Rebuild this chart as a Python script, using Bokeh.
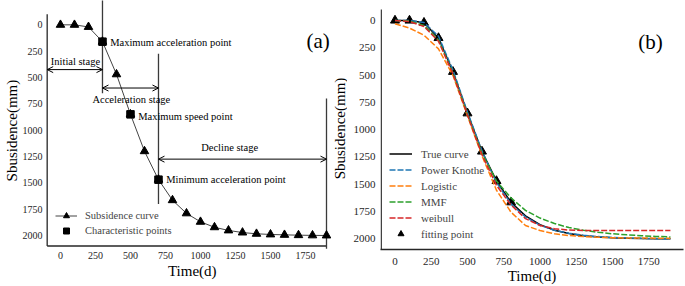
import math
from bokeh.plotting import figure
from bokeh.models import (Range1d, FixedTicker, Legend, LegendItem,
                          Arrow, OpenHead)
from bokeh.layouts import row
from bokeh.core.properties import value
from bokeh.embed import file_html
from bokeh.resources import INLINE

# ---------------- data ----------------
time_d = [0, 100, 200, 300, 400, 500, 600, 700, 800, 900, 1000, 1100, 1200,
          1300, 1400, 1500, 1600, 1700, 1800, 1900]
true_curve = [0, 0, 20, 160, 470, 850, 1200, 1470, 1665, 1790, 1870, 1922,
              1952, 1972, 1984, 1990, 1994, 1997, 1999, 2000]
char_t = [300, 500, 700]
char_s = [160, 850, 1470]
char_labels = ["Maximum acceleration point", "Maximum speed point",
               "Minimum acceleration point"]
stage_labels = ["Initial stage", "Acceleration stage", "Decline stage"]

power_knothe = [0, 0, 18, 145, 455, 840, 1195, 1485, 1680, 1800, 1876, 1922,
                1950, 1968, 1980, 1988, 1993, 1996, 1998, 2000]
logistic = [30, 70, 135, 260, 505, 875, 1240, 1555, 1756, 1878, 1924, 1954,
            1970, 1980, 1986, 1990, 1992, 1993, 1994, 1994]
mmf = [0, 5, 45, 180, 480, 860, 1215, 1470, 1625, 1740, 1810, 1860, 1897,
       1922, 1940, 1954, 1964, 1972, 1978, 1983]
weibull = [0, 10, 55, 190, 490, 865, 1230, 1510, 1690, 1815, 1878, 1908,
           1920, 1924, 1925, 1925, 1925, 1925, 1925, 1925]
fit_t = time_d[:9]
fit_s = true_curve[:9]

x_ticks = [0, 250, 500, 750, 1000, 1250, 1500, 1750]
y_ticks = [0, 250, 500, 750, 1000, 1250, 1500, 1750, 2000]

FONT = "Liberation Serif"
INK = "#262626"
DASH = "6 2"
NB = "\u00a0"
YLABEL = "Sbusidence(mm)"


def style(p, tick_size, xstand, ystand, ylab_stand, xlab_stand):
    p.outline_line_color = None
    p.xgrid.visible = False
    p.ygrid.visible = False
    p.background_fill_color = "white"
    p.border_fill_color = "white"
    for ax in (p.xaxis[0], p.yaxis[0]):
        ax.major_tick_out = 0
        ax.major_tick_in = 0
        ax.minor_tick_out = 0
        ax.minor_tick_in = 0
        ax.axis_line_color = INK
        ax.axis_line_width = 1.3
        ax.major_label_text_font = FONT
        ax.major_label_text_font_size = tick_size
        ax.major_label_text_color = INK
        ax.axis_label_text_font = FONT
        ax.axis_label_text_font_size = "15px"
        ax.axis_label_text_font_style = "normal"
        ax.axis_label_text_color = "black"
    p.xaxis[0].ticker = FixedTicker(ticks=x_ticks)
    p.yaxis[0].ticker = FixedTicker(ticks=y_ticks)
    p.xaxis[0].major_label_standoff = xstand
    p.yaxis[0].major_label_standoff = ystand
    p.yaxis[0].axis_label_standoff = ylab_stand
    p.xaxis[0].axis_label_standoff = xlab_stand


# ---------------- panel (a) ----------------
pa = figure(width=331, height=286, frame_width=286, frame_height=249,
            min_border_left=45, min_border_right=0, min_border_top=0,
            min_border_bottom=37, x_range=Range1d(-107, 1935.7),
            y_range=Range1d(2133, -231), output_backend="svg",
            toolbar_location=None,
            x_axis_label=NB * 2 + "Time(d)",
            y_axis_label=YLABEL + NB * 3)
style(pa, "10px", 2, 3, 0, 1)
pa.yaxis[0].axis_line_color = None
pa.xaxis[0].axis_line_color = None

# spines
pa.segment(x0=[-95, -95], y0=[-100, 2100], x1=[-95, 1900], y1=[2100, 2100],
           line_color=INK, line_width=1.3)
# stage boundaries
pa.segment(x0=[300, 700, 1900], y0=[-250, 275, 700], x1=[300, 700, 1900],
           y1=[650, 1700, 2125], line_color="#3a3a3a", line_width=1.3)

ln_a = pa.line(time_d, true_curve, line_color="#444444", line_width=1)
tri_a = pa.scatter(time_d, true_curve, marker="triangle", size=8.5,
                   color="black")
sq_a = pa.scatter(char_t, char_s, marker="square", size=7.5, color="black")

pa.text(x=[t + 55 for t in char_t], y=[171, 870, 1471], text=char_labels,
        text_font=value(FONT), text_font_size="10.5px", text_align="left",
        text_baseline="middle", text_color="black")

for (x0, x1, y) in [(-95, 300, 425), (300, 700, 600), (700, 1900, 1275)]:
    pa.add_layout(Arrow(x_start=x0, y_start=y, x_end=x1, y_end=y,
                        line_width=1, line_color="black",
                        start=OpenHead(size=6, line_width=1),
                        end=OpenHead(size=6, line_width=1)))

pa.text(x=[107, 506, 1208], y=[348, 706, 1168], text=stage_labels,
        text_font=value(FONT), text_font_size="10.5px", text_align="center",
        text_baseline="middle", text_color="black")
pa.text(x=[1840], y=[158], text=["(a)"], text_font=value(FONT),
        text_font_size="21px", text_align="center", text_baseline="middle",
        text_color="black")

leg_a = Legend(items=[LegendItem(label="Subsidence curve",
                                 renderers=[ln_a, tri_a]),
                      LegendItem(label="Characteristic points",
                                 renderers=[sq_a])],
               location=(10, 11), glyph_width=22, glyph_height=15,
               label_height=15, spacing=0, padding=0, margin=0,
               label_standoff=8, label_text_font=FONT,
               label_text_font_size="10.5px", border_line_color=None,
               background_fill_alpha=0)
pa.add_layout(leg_a)

# ------------- strip holding the y title of panel (b) -------------
pc = figure(width=16, height=286, frame_width=16, frame_height=249,
            min_border_left=0, min_border_right=0, min_border_top=0,
            min_border_bottom=37, x_range=Range1d(0, 16),
            y_range=Range1d(249, 0), output_backend="svg",
            toolbar_location=None, x_axis_location=None,
            y_axis_location=None)
pc.outline_line_color = None
pc.xgrid.visible = False
pc.ygrid.visible = False
pc.text(x=[8], y=[128], text=[YLABEL], angle=math.pi / 2,
        text_font=value(FONT), text_font_size="15px", text_align="center",
        text_baseline="middle", text_color="black")

# ---------------- panel (b) ----------------
pb = figure(width=338, height=286, frame_width=303, frame_height=249,
            min_border_left=33, min_border_right=2, min_border_top=0,
            min_border_bottom=37, x_range=Range1d(-100, 1990),
            y_range=Range1d(2098, -183), output_backend="svg",
            toolbar_location=None,
            x_axis_label="Time(d)")
style(pb, "11px", 8, 5, 0, 0)
pb.yaxis[0].axis_line_color = None
pb.segment(x0=[-95], y0=[-100], x1=[-95], y1=[2098], line_color=INK,
           line_width=1.3)

tri_b = pb.scatter(fit_t, fit_s, marker="triangle", size=9, color="black")
r_true = pb.line(time_d, true_curve, line_color="black", line_width=1.5)
r_pk = pb.line(time_d, power_knothe, line_color="#1f77b4", line_width=1.5,
               line_dash=DASH)
r_lg = pb.line(time_d, logistic, line_color="#ff7f0e", line_width=1.5,
               line_dash=DASH)
r_mmf = pb.line(time_d, mmf, line_color="#2ca02c", line_width=1.5,
                line_dash=DASH)
r_wb = pb.line(time_d, weibull, line_color="#d62728", line_width=1.5,
               line_dash=DASH)
pb.text(x=[1762], y=[199], text=["(b)"], text_font=value(FONT),
        text_font_size="21px", text_align="center", text_baseline="middle",
        text_color="black")

leg_b = Legend(items=[LegendItem(label="True curve", renderers=[r_true]),
                      LegendItem(label="Power Knothe", renderers=[r_pk]),
                      LegendItem(label="Logistic", renderers=[r_lg]),
                      LegendItem(label="MMF", renderers=[r_mmf]),
                      LegendItem(label="weibull", renderers=[r_wb]),
                      LegendItem(label="fitting point", renderers=[tri_b])],
               location=(9, 8), glyph_width=23, glyph_height=15,
               label_height=15, spacing=1, padding=0, margin=0,
               label_standoff=9, label_text_font=FONT,
               label_text_font_size="11px", border_line_color=None,
               background_fill_alpha=0)
pb.add_layout(leg_b)

layout = row(pa, pc, pb, spacing=0)
open("out.html", "w").write(file_html(layout, INLINE))
